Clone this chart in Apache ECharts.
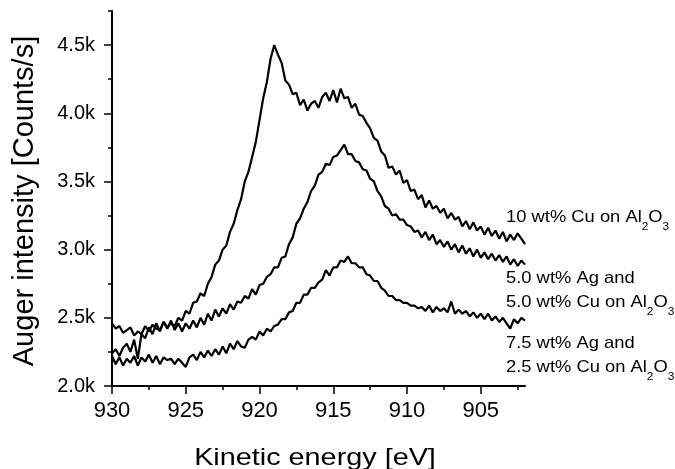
<!DOCTYPE html>
<html>
<head>
<meta charset="utf-8">
<script src="https://cdn.jsdelivr.net/npm/echarts@6.0.0/dist/echarts.min.js"></script>
<style>
html,body{margin:0;padding:0;background:#fff;}
#chart{width:675px;height:469px;}
</style>
</head>
<body>
<div id="chart"></div>
<script>
// Kinetic energy sampling [eV]
var energies = [
930.00,929.75,929.50,929.25,929.00,928.75,928.50,928.25,928.00,927.75,
927.50,927.25,927.00,926.75,926.50,926.25,926.00,925.75,925.50,925.25,
925.00,924.75,924.50,924.25,924.00,923.75,923.50,923.25,923.00,922.75,
922.50,922.25,922.00,921.75,921.50,921.25,921.00,920.75,920.50,920.25,
920.00,919.75,919.50,919.25,919.00,918.75,918.50,918.25,918.00,917.75,
917.50,917.25,917.00,916.75,916.50,916.25,916.00,915.75,915.50,915.25,
915.00,914.75,914.50,914.25,914.00,913.75,913.50,913.25,913.00,912.75,
912.50,912.25,912.00,911.75,911.50,911.25,911.00,910.75,910.50,910.25,
910.00,909.75,909.50,909.25,909.00,908.75,908.50,908.25,908.00,907.75,
907.50,907.25,907.00,906.75,906.50,906.25,906.00,905.75,905.50,905.25,
905.00,904.75,904.50,904.25,904.00,903.75,903.50,903.25,903.00,902.75,
902.50,902.25,902.00];

// Auger intensity [k counts/s]
var cu10 = [
2.46,2.42,2.44,2.39,2.41,2.43,2.37,2.40,2.38,2.44,
2.40,2.45,2.42,2.41,2.47,2.43,2.46,2.44,2.50,2.48,
2.55,2.53,2.61,2.62,2.68,2.66,2.75,2.80,2.89,2.92,
3.00,3.03,3.13,3.19,3.29,3.37,3.50,3.57,3.68,3.79,
3.95,4.11,4.23,4.40,4.50,4.43,4.37,4.24,4.21,4.14,
4.15,4.06,4.10,4.02,4.07,4.09,4.04,4.12,4.15,4.09,
4.17,4.08,4.18,4.11,4.12,4.04,4.07,3.99,3.98,3.93,
3.89,3.82,3.80,3.72,3.69,3.60,3.61,3.55,3.58,3.49,
3.51,3.43,3.44,3.37,3.40,3.31,3.36,3.30,3.32,3.27,
3.30,3.23,3.27,3.22,3.24,3.17,3.21,3.15,3.20,3.14,
3.17,3.11,3.16,3.10,3.14,3.08,3.13,3.06,3.11,3.07,
3.12,3.08,3.04];

var ag5cu5 = [
2.24,2.27,2.22,2.28,2.31,2.25,2.34,2.20,2.38,2.35,
2.43,2.38,2.46,2.40,2.47,2.42,2.48,2.41,2.46,2.40,
2.46,2.42,2.48,2.43,2.50,2.45,2.53,2.48,2.56,2.51,
2.57,2.53,2.60,2.56,2.62,2.61,2.66,2.64,2.71,2.67,
2.74,2.75,2.80,2.82,2.87,2.87,2.94,2.95,3.04,3.09,
3.19,3.23,3.30,3.35,3.43,3.47,3.55,3.57,3.63,3.62,
3.68,3.69,3.73,3.77,3.70,3.70,3.65,3.64,3.59,3.58,
3.52,3.50,3.43,3.39,3.32,3.30,3.25,3.26,3.22,3.22,
3.18,3.17,3.13,3.14,3.09,3.13,3.07,3.11,3.04,3.07,
3.02,3.06,3.00,3.04,2.98,3.03,2.97,3.01,2.95,3.00,
2.94,2.98,2.93,2.97,2.92,2.96,2.91,2.95,2.89,2.93,
2.88,2.92,2.89];

var ag75cu25 = [
2.22,2.16,2.21,2.15,2.20,2.17,2.22,2.15,2.21,2.18,
2.23,2.17,2.22,2.16,2.21,2.19,2.20,2.16,2.20,2.17,
2.14,2.21,2.23,2.19,2.25,2.21,2.26,2.22,2.27,2.23,
2.29,2.24,2.31,2.27,2.33,2.29,2.28,2.34,2.36,2.34,
2.40,2.37,2.42,2.40,2.44,2.45,2.49,2.49,2.54,2.55,
2.61,2.61,2.67,2.67,2.72,2.72,2.76,2.78,2.85,2.81,
2.87,2.87,2.92,2.91,2.95,2.90,2.90,2.87,2.87,2.82,
2.81,2.77,2.77,2.72,2.70,2.66,2.66,2.63,2.63,2.61,
2.61,2.59,2.59,2.57,2.58,2.55,2.59,2.54,2.58,2.55,
2.57,2.54,2.62,2.53,2.56,2.53,2.55,2.51,2.54,2.50,
2.53,2.49,2.53,2.48,2.51,2.47,2.50,2.46,2.42,2.49,
2.46,2.50,2.48];

var xMajorTicks = [930, 925, 920, 915, 910, 905];
var xMinorTicks = [927.5, 922.5, 917.5, 912.5, 907.5, 902.5];
var yMajorTicks = [2.0, 2.5, 3.0, 3.5, 4.0, 4.5];
var yMinorTicks = [2.25, 2.75, 3.25, 3.75, 4.25, 4.75];

function pairs(vals) {
  return energies.map(function (e, i) { return [e, vals[i]]; });
}

var FF = '"Liberation Sans", Arial, Helvetica, sans-serif';
var chart = echarts.init(document.getElementById('chart'), null, {renderer: 'canvas'});

var xBase = {
  type: 'value', min: 902, max: 930, inverse: true, position: 'bottom',
  splitLine: {show: false}
};
var yBase = {
  type: 'value', min: 2.0, max: 4.75, position: 'left',
  splitLine: {show: false}
};

function lineSeries(vals) {
  return {
    type: 'line', data: pairs(vals), showSymbol: false, symbol: 'none',
    xAxisIndex: 0, yAxisIndex: 0,
    lineStyle: {color: '#000', width: 2.2}, silent: true
  };
}

function label(text, x, y) {
  return {
    type: 'text', x: x, y: y, scaleX: 1.08, silent: true,
    style: {
      text: text, fill: '#000', fontSize: 17, fontFamily: FF,
      align: 'left', verticalAlign: 'middle', textAlign: 'left', textVerticalAlign: 'middle'
    }
  };
}
function labelAl(prefix, x, y) {
  return {
    type: 'text', x: x, y: y, scaleX: 1.08, silent: true,
    style: {
      text: '{m|' + prefix + ' Al}{s|2}{m|O}{s|3}', fill: '#000', fontFamily: FF,
      align: 'left', verticalAlign: 'middle', textAlign: 'left', textVerticalAlign: 'middle',
      rich: {
        m: {fontSize: 17, lineHeight: 30, fontFamily: FF, fill: '#000', color: '#000', verticalAlign: 'middle'},
        s: {fontSize: 11, lineHeight: 12, fontFamily: FF, fill: '#000', color: '#000', verticalAlign: 'bottom'}
      }
    }
  };
}

chart.setOption({
  animation: false,
  backgroundColor: '#fff',
  grid: {left: 112, right: 150, top: 11, bottom: 83, containLabel: false},
  xAxis: [
    Object.assign({}, xBase, {
      axisLine: {show: true, lineStyle: {color: '#000', width: 2}},
      axisTick: {show: true, length: 8, customValues: xMajorTicks, lineStyle: {color: '#000', width: 1.5}},
      axisLabel: {show: true, customValues: xMajorTicks, color: '#000', fontSize: 22, fontFamily: FF, margin: 14}
    }),
    Object.assign({}, xBase, {
      axisLine: {show: false},
      axisTick: {show: true, length: 4, customValues: xMinorTicks, lineStyle: {color: '#000', width: 1.5}},
      axisLabel: {show: false}
    })
  ],
  yAxis: [
    Object.assign({}, yBase, {
      axisLine: {show: true, lineStyle: {color: '#000', width: 2}},
      axisTick: {show: true, length: 8, customValues: yMajorTicks, lineStyle: {color: '#000', width: 1.5}},
      axisLabel: {show: true, customValues: yMajorTicks, color: '#000', fontSize: 20, fontFamily: FF, margin: 17,
        formatter: function (v) { return v.toFixed(1) + 'k'; }}
    }),
    Object.assign({}, yBase, {
      offset: 0,
      axisLine: {show: false},
      axisTick: {show: true, length: 4, customValues: yMinorTicks, lineStyle: {color: '#000', width: 1.5}},
      axisLabel: {show: false}
    })
  ],
  series: [lineSeries(cu10), lineSeries(ag5cu5), lineSeries(ag75cu25)],
  graphic: [
    labelAl('10 wt% Cu on', 506, 217),
    label('5.0 wt% Ag and', 506, 278),
    labelAl('5.0 wt% Cu on', 506, 302),
    label('7.5 wt% Ag and', 506, 343),
    labelAl('2.5 wt% Cu on', 506, 367),
    {
      type: 'text', x: 315, y: 458, scaleX: 1.2, silent: true,
      style: {text: 'Kinetic energy [eV]', fill: '#000', fontSize: 24, fontFamily: FF,
        align: 'center', verticalAlign: 'middle', textAlign: 'center', textVerticalAlign: 'middle'}
    },
    {
      type: 'text', x: 25, y: 201, rotation: Math.PI / 2, silent: true,
      style: {text: 'Auger intensity [Counts/s]', fill: '#000', fontSize: 29, fontFamily: FF,
        align: 'center', verticalAlign: 'middle', textAlign: 'center', textVerticalAlign: 'middle'}
    }
  ]
});
</script>
</body>
</html>
